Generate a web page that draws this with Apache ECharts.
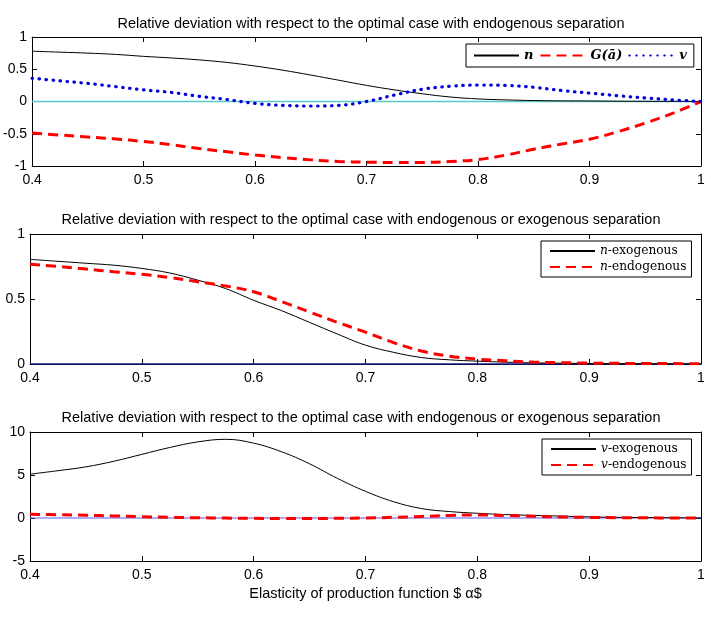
<!DOCTYPE html>
<html>
<head>
<meta charset="utf-8">
<script src="https://cdn.jsdelivr.net/npm/echarts@6/dist/echarts.min.js"></script>
<style>
  html, body { margin: 0; padding: 0; background: #fff; }
  #main { width: 711px; height: 620px; }
</style>
</head>
<body>
<div id="main"></div>
<script>
(function () {

    // alpha grid shared by every panel
    var alpha = [0.4, 0.425, 0.45, 0.475, 0.5, 0.525, 0.55, 0.575, 0.6, 0.625, 0.65, 0.675, 0.7,
                 0.725, 0.75, 0.775, 0.8, 0.825, 0.85, 0.875, 0.9, 0.925, 0.95, 0.975, 1.0];

    // panel 1
    var nTop = [0.78, 0.765, 0.75, 0.73, 0.70, 0.675, 0.645, 0.605, 0.55, 0.485, 0.41, 0.33, 0.25,
                0.18, 0.12, 0.07, 0.04, 0.025, 0.015, 0.01, 0.008, 0.005, 0.003, 0.002, 0];
    var gBar = [-0.49, -0.52, -0.55, -0.58, -0.62, -0.67, -0.73, -0.78, -0.83, -0.87, -0.905, -0.93, -0.94,
                -0.945, -0.945, -0.93, -0.90, -0.83, -0.74, -0.66, -0.585, -0.47, -0.335, -0.18, 0];
    var vTop = [0.36, 0.32, 0.28, 0.23, 0.18, 0.14, 0.08, 0.03, -0.03, -0.06, -0.07, -0.06, 0.0,
                0.10, 0.19, 0.235, 0.255, 0.25, 0.22, 0.17, 0.13, 0.09, 0.055, 0.025, 0];

    // panel 2
    var nExo = [0.805, 0.79, 0.775, 0.76, 0.735, 0.70, 0.645, 0.58, 0.49, 0.41, 0.32, 0.23, 0.145,
                0.09, 0.05, 0.032, 0.022, 0.014, 0.009, 0.006, 0.004, 0.003, 0.002, 0.001, 0];
    var nEndo = [0.767, 0.75, 0.73, 0.71, 0.69, 0.665, 0.633, 0.60, 0.556, 0.48, 0.40, 0.32, 0.245,
                 0.165, 0.10, 0.06, 0.038, 0.025, 0.015, 0.01, 0.007, 0.005, 0.004, 0.003, 0.002];

    // panel 3
    var vExo = [5.1, 5.5, 5.95, 6.6, 7.4, 8.2, 8.85, 9.15, 8.7, 7.7, 6.3, 4.6, 3.1,
                1.9, 1.1, 0.75, 0.55, 0.4, 0.3, 0.22, 0.13, 0.08, 0.05, 0.03, 0];
    var vEndo = [0.43, 0.38, 0.32, 0.24, 0.15, 0.08, 0.03, -0.01, -0.04, -0.05, -0.05, -0.04, 0.0,
                 0.08, 0.18, 0.3, 0.35, 0.3, 0.2, 0.12, 0.07, 0.04, 0.02, 0.01, 0];

    var zero = [0, 0];
    var zeroX = [0.4, 1.0];

    var titles = [
        'Relative deviation with respect to the optimal case with endogenous separation',
        'Relative deviation with respect to the optimal case with endogenous or exogenous separation',
        'Relative deviation with respect to the optimal case with endogenous or exogenous separation'
    ];
    var yRanges = [[-1, 1, 0.5], [0, 1, 0.5], [-5, 10, 5]];
    var xLabel = 'Elasticity of production function $ \u03b1$';

    var font = '"Liberation Sans", Arial, sans-serif';
    var serif = '"DejaVu Serif", "Liberation Serif", serif';

    function pairs(ys) {
        return alpha.map(function (a, i) { return [a, ys[i]]; });
    }

    var grids = [
        { left: 30, right: 10, top: 37, height: 129 },
        { left: 30, right: 10, top: 234, height: 130 },
        { left: 30, right: 10, top: 432, height: 129 }
    ];

    var xAxes = [];
    var yAxes = [];
    grids.forEach(function (g, k) {
        xAxes.push({
            type: 'value', gridIndex: k, min: 0.4, max: 1, interval: 0.1,
            axisLine: { show: true, onZero: false, lineStyle: { color: '#000', width: 1 } },
            axisTick: { show: true, inside: true, length: 5, lineStyle: { color: '#000' } },
            axisLabel: { color: '#000', fontSize: 14, fontFamily: font, margin: 7 },
            splitLine: { show: false },
            name: k === 2 ? xLabel : '',
            nameLocation: 'middle', nameGap: 25,
            nameTextStyle: { color: '#000', fontSize: 14.5, fontFamily: font }
        });
        xAxes.push({
            type: 'value', gridIndex: k, position: 'top', min: 0.4, max: 1, interval: 0.1,
            axisLine: { show: true, onZero: false, lineStyle: { color: '#000', width: 1 } },
            axisTick: { show: true, inside: true, length: 5, lineStyle: { color: '#000' } },
            axisLabel: { show: false }, splitLine: { show: false }
        });
        var r = yRanges[k];
        yAxes.push({
            type: 'value', gridIndex: k, min: r[0], max: r[1], interval: r[2],
            axisLine: { show: true, onZero: false, lineStyle: { color: '#000', width: 1 } },
            axisTick: { show: true, inside: true, length: 5, lineStyle: { color: '#000' } },
            axisLabel: { color: '#000', fontSize: 14, fontFamily: font, margin: 5 },
            splitLine: { show: false }
        });
        yAxes.push({
            type: 'value', gridIndex: k, position: 'right', min: r[0], max: r[1], interval: r[2],
            axisLine: { show: true, onZero: false, lineStyle: { color: '#000', width: 1 } },
            axisTick: { show: true, inside: true, length: 5, lineStyle: { color: '#000' } },
            axisLabel: { show: false }, splitLine: { show: false }
        });
    });

    function line(name, k, ys, color, width, type, cap) {
        return {
            name: name, type: 'line', xAxisIndex: 2 * k, yAxisIndex: 2 * k,
            data: pairs(ys), showSymbol: false, symbol: 'none', smooth: 0.4,
            lineStyle: { color: color, width: width, type: type, cap: cap || 'butt' },
            itemStyle: { color: color },
            animation: false
        };
    }

    function zeroLine(k, color, width) {
        return {
            type: 'line', xAxisIndex: 2 * k, yAxisIndex: 2 * k, silent: true,
            data: zeroX.map(function (x, i) { return [x, zero[i]]; }),
            symbol: 'none', lineStyle: { color: color, width: width }, animation: false
        };
    }

    var dashed = [10, 6];
    var dotted = [0.5, 6.5];

    var legendText = {
        fontSize: 12.2, fontFamily: serif, color: '#000',
        rich: {
            i: { fontStyle: 'italic', fontWeight: 'bold', fontSize: 13, fontFamily: serif, color: '#000' },
            m: { fontStyle: 'italic', fontSize: 12.2, fontFamily: serif, color: '#000' },
            t: { fontSize: 12.2, fontFamily: serif, color: '#000' }
        }
    };

    var legendBase = {
        itemWidth: 45, itemHeight: 10,
        backgroundColor: '#fff', borderColor: '#000', borderWidth: 1, borderRadius: 0,
        itemStyle: { opacity: 0 },
        textStyle: legendText
    };

    function splitName(name) {
        var p = name.split('-');
        return '{m|' + p[0] + '}{t|-' + p[1] + '}';
    }

    var option = {
        animation: false,
        title: titles.map(function (t, k) {
            return {
                text: t, left: k === 0 ? 366 : 356, top: [11, 207, 405][k], textAlign: 'center',
                textStyle: { fontSize: 14.5, fontWeight: 'normal', color: '#000', fontFamily: font }
            };
        }),
        grid: grids,
        xAxis: xAxes,
        yAxis: yAxes,
        legend: [
            echarts.util.extend({
                data: ['n', 'G(\u0101)', 'v'], orient: 'horizontal', left: 466, top: 44,
                itemGap: 6, padding: [5, 7, 5, 7],
                formatter: function (name) { return '{i|' + name + '}'; }
            }, legendBase),
            echarts.util.extend({
                data: ['n-exogenous', 'n-endogenous'], orient: 'vertical', left: 541, top: 241,
                itemGap: 4, padding: [4, 5, 4, 8],
                formatter: splitName
            }, legendBase),
            echarts.util.extend({
                data: ['v-exogenous', 'v-endogenous'], orient: 'vertical', left: 542, top: 439,
                itemGap: 4, padding: [4, 5, 4, 8],
                formatter: splitName
            }, legendBase)
        ],
        series: [
            zeroLine(0, '#5cc8c8', 1.4),
            line('n', 0, nTop, '#000', 1, 'solid'),
            line('G(\u0101)', 0, gBar, '#ff0000', 3, dashed),
            line('v', 0, vTop, '#0000dd', 3.2, dotted, 'round'),
            zeroLine(1, '#1a1a8c', 1.5),
            line('n-exogenous', 1, nExo, '#000', 1, 'solid'),
            line('n-endogenous', 1, nEndo, '#ff0000', 3, dashed),
            zeroLine(2, '#5a5af0', 1.2),
            line('v-exogenous', 2, vExo, '#000', 1, 'solid'),
            line('v-endogenous', 2, vEndo, '#ff0000', 3, dashed)
        ]
    };

    var myChart = echarts.init(document.getElementById('main'), null, { renderer: 'canvas' });
    myChart.setOption(option);

}());
</script>
</body>
</html>
